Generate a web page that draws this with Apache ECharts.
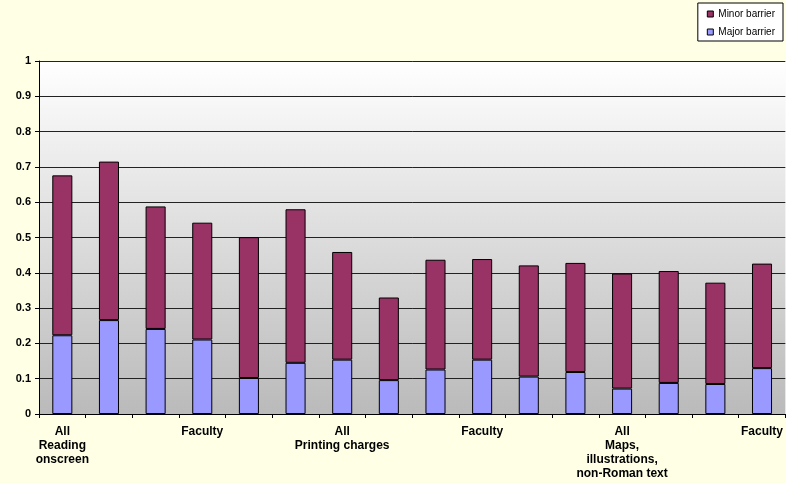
<!DOCTYPE html>
<html>
<head>
<meta charset="utf-8">
<script src="https://cdn.jsdelivr.net/npm/echarts@6/dist/echarts.min.js"></script>
<style>
html,body{margin:0;padding:0;background:#FFFFE5;}
#main{width:786px;height:483px;}
</style>
</head>
<body>
<div id="main"></div>
<script>
var categories = [
  "All\nReading\nonscreen", "", "", "Faculty", "", "",
  "All\nPrinting charges", "", "", "Faculty", "", "",
  "All\nMaps,\nillustrations,\nnon-Roman text", "", "", "Faculty"
];
var majorBarrier = [0.223, 0.266, 0.241, 0.211, 0.102, 0.145, 0.154, 0.096, 0.126, 0.154, 0.106, 0.119, 0.072, 0.088, 0.085, 0.130];
var totalBarrier = [0.676, 0.715, 0.588, 0.542, 0.501, 0.580, 0.459, 0.330, 0.437, 0.439, 0.421, 0.428, 0.398, 0.405, 0.372, 0.426];
var minorBarrier = totalBarrier.map(function (t, i) { return +(t - majorBarrier[i]).toFixed(3); });
var yTicks = [0, 0.1, 0.2, 0.3, 0.4, 0.5, 0.6, 0.7, 0.8, 0.9, 1];

var chart = echarts.init(document.getElementById('main'));
chart.setOption({
  backgroundColor: '#FFFFE5',
  animation: false,
  textStyle: { fontFamily: 'Liberation Sans, Arial, sans-serif' },
  legend: {
    right: 3, top: 3,
    orient: 'vertical',
    data: ['Minor barrier', 'Major barrier'],
    icon: 'rect',
    backgroundColor: '#ffffff',
    borderColor: '#000000', borderWidth: 1,
    padding: [6, 8, 4, 9],
    itemWidth: 6, itemHeight: 6, itemGap: 8,
    textStyle: { fontSize: 10, color: '#000', padding: [0, 0, 0, 0] },
    itemStyle: { borderColor: '#000', borderWidth: 1 }
  },
  grid: {
    left: 39, right: 0, top: 61, bottom: 69,
    show: true,
    borderWidth: 0,
    backgroundColor: new echarts.graphic.LinearGradient(0, 0, 0, 1, [
      { offset: 0, color: '#ffffff' },
      { offset: 1, color: '#bababa' }
    ])
  },
  xAxis: {
    type: 'category',
    data: categories,
    axisLine: { lineStyle: { color: '#000', width: 1 } },
    axisTick: { show: true, length: 4, lineStyle: { color: '#000' } },
    axisLabel: {
      interval: 0, color: '#000', fontWeight: 'bold', fontSize: 12,
      lineHeight: 14, margin: 11
    }
  },
  yAxis: {
    type: 'value', min: 0, max: 1, interval: 0.1,
    axisLine: { show: true, lineStyle: { color: '#000', width: 1 } },
    axisTick: { show: true, length: 4, lineStyle: { color: '#000' } },
    splitLine: { show: true, lineStyle: { color: '#222', width: 1 } },
    axisLabel: {
      color: '#000', fontWeight: 'bold', fontSize: 11, margin: 8,
      formatter: function (v) { return yTicks.indexOf(+v.toFixed(1)) >= 0 ? String(+v.toFixed(1)) : ''; }
    }
  },
  series: [
    {
      name: 'Major barrier', type: 'bar', stack: 's',
      data: majorBarrier, barWidth: '43%',
      itemStyle: { color: '#9999FF', borderColor: '#000', borderWidth: 1 }
    },
    {
      name: 'Minor barrier', type: 'bar', stack: 's',
      data: minorBarrier, barWidth: '43%',
      itemStyle: { color: '#993366', borderColor: '#000', borderWidth: 1 }
    }
  ]
});
</script>
</body>
</html>
